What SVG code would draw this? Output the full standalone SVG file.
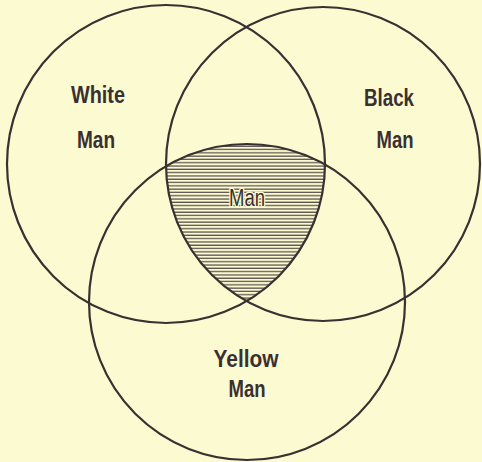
<svg xmlns="http://www.w3.org/2000/svg" width="482" height="462" viewBox="0 0 482 462">
<style>
.c{fill:none;stroke:#3a3032;stroke-width:2.2}
.t{font-family:"Liberation Sans",Arial,sans-serif;font-weight:bold;font-size:23px;fill:#3a3032;text-anchor:middle}
.m{font-family:"Liberation Sans",Arial,sans-serif;font-size:23px;fill:#3a3032;text-anchor:middle;stroke:#fbfad0;stroke-width:3;paint-order:stroke}
</style>
<defs>
<pattern id="hatch" patternUnits="userSpaceOnUse" width="20" height="3.3">
<line x1="0" y1="1" x2="20" y2="1" stroke="#3f3739" stroke-width="1.1"/>
</pattern>
<clipPath id="cA"><circle cx="166" cy="164" r="159"/></clipPath>
<clipPath id="cB"><circle cx="323" cy="164" r="157"/></clipPath>
<clipPath id="cC"><circle cx="247" cy="302" r="158"/></clipPath>
</defs>
<rect width="482" height="462" fill="#fbfad0"/>
<g id="hatched-region" clip-path="url(#cA)">
<g clip-path="url(#cB)">
<g clip-path="url(#cC)">
<rect x="140" y="130" width="220" height="200" fill="url(#hatch)"/>
</g>
</g>
</g>
<g id="white-man">
<circle class="c" cx="166" cy="164" r="159"/>
<text class="t" x="98" y="103" textLength="54" lengthAdjust="spacingAndGlyphs">White</text>
<text class="t" x="96" y="148" textLength="38" lengthAdjust="spacingAndGlyphs">Man</text>
</g>
<g id="black-man">
<circle class="c" cx="323" cy="164" r="157"/>
<text class="t" x="389" y="106" textLength="50" lengthAdjust="spacingAndGlyphs">Black</text>
<text class="t" x="395" y="148" textLength="37" lengthAdjust="spacingAndGlyphs">Man</text>
</g>
<g id="yellow-man">
<circle class="c" cx="247" cy="302" r="158"/>
<text class="t" x="246" y="367" textLength="65" lengthAdjust="spacingAndGlyphs">Yellow</text>
<text class="t" x="247" y="397" textLength="37" lengthAdjust="spacingAndGlyphs">Man</text>
</g>
<g id="man">
<text class="m" x="247" y="206" textLength="36" lengthAdjust="spacingAndGlyphs">Man</text>
</g>
</svg>
